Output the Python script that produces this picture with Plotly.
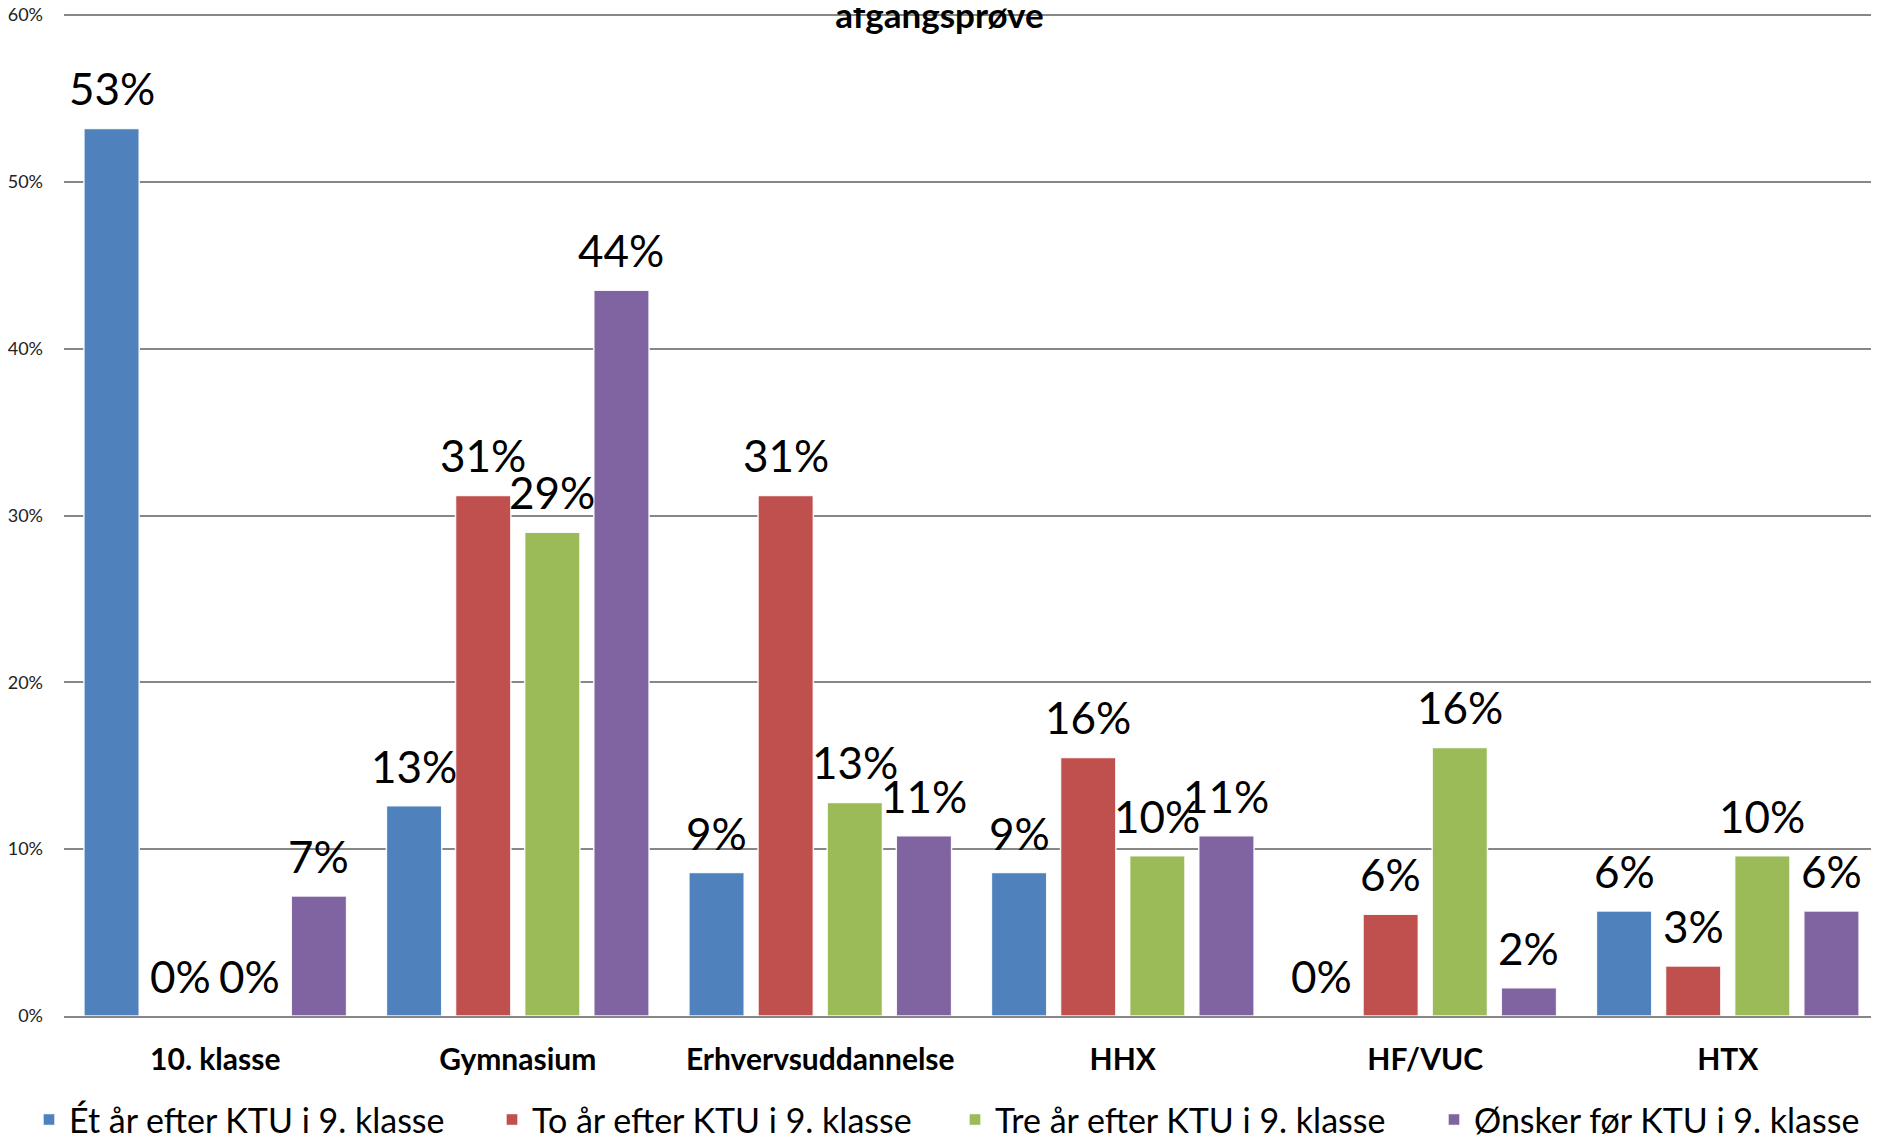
import plotly.graph_objects as go

categories = ["10. klasse", "Gymnasium", "Erhvervsuddannelse", "HHX", "HF/VUC", "HTX"]
series_names = [
    "Ét år efter KTU i 9. klasse",
    "To år efter KTU i 9. klasse",
    "Tre år efter KTU i 9. klasse",
    "Ønsker før KTU i 9. klasse",
]
et_aar = [0.532, 0.126, 0.086, 0.086, 0.0, 0.063]
to_aar = [0.0, 0.312, 0.312, 0.155, 0.061, 0.030]
tre_aar = [0.0, 0.290, 0.128, 0.096, 0.161, 0.096]
oensker = [0.072, 0.435, 0.108, 0.108, 0.017, 0.063]
title_text = "afgangsprøve"

colors = ["#4F81BD", "#C0504D", "#9BBB59", "#8064A2"]
series_values = [et_aar, to_aar, tre_aar, oensker]
legend_ids = ["legend", "legend", "legend", "legend2"]

W, H = 1879, 1141
OFF = 8  # page body margin offset
m_l, m_r, m_t, m_b = 55.5, 8, 4.2, 133
y_top = 0.6018
bargap = 0.086
bargroupgap = 0.2

fig = go.Figure()
for name, vals, col, lg in zip(series_names, series_values, colors, legend_ids):
    fig.add_trace(go.Bar(
        x=categories, y=vals, name=name, legend=lg,
        marker=dict(color=col, line=dict(color="rgba(255,255,255,0.9)", width=1.5)),
    ))

# data labels above bars
n = len(series_values)
slot = (1 - bargap) / n
annotations = []
for i, vals in enumerate(series_values):
    off = (i - (n - 1) / 2) * slot
    for j, v in enumerate(vals):
        annotations.append(dict(
            x=j + off, y=v, xref="x", yref="y",
            text=f"{v*100:.0f}%", showarrow=False,
            yanchor="middle", yshift=40,
            font=dict(family="Lato", size=44, color="#000000"),
        ))

legend_common = dict(
    orientation="h", xref="container", xanchor="left",
    yref="container", y=1 - 1112 / H, yanchor="middle",
    font=dict(family="Lato", size=34, color="#000000"),
    traceorder="normal", bgcolor="rgba(0,0,0,0)",
)

fig.update_layout(
    template="none",
    width=W, height=H,
    margin=dict(l=m_l, r=m_r, t=m_t, b=m_b, pad=0, autoexpand=False),
    paper_bgcolor="white", plot_bgcolor="white",
    barmode="group", bargap=bargap, bargroupgap=bargroupgap,
    font=dict(family="Lato", color="#000000"),
    title=dict(
        text=f"<b>{title_text}</b>", x=(W / 2 - OFF) / W, xref="container", xanchor="center",
        y=1 - 8 / H, yref="container", yanchor="middle",
        font=dict(family="Lato", size=35, color="#000000"),
    ),
    showlegend=True,
    legend=dict(x=21 / W, entrywidth=418, entrywidthmode="pixels", **legend_common),
    legend2=dict(x=1426 / W, **legend_common),
    annotations=annotations,
)
fig.update_yaxes(
    range=[0, y_top], dtick=0.1, tickformat=".0%", automargin=False,
    showgrid=True, gridcolor="#878787", gridwidth=2,
    zeroline=False, showline=False,
    ticks="", ticklabelstandoff=20, ticklabeloverflow="allow",
    tickfont=dict(family="Lato", size=18, color="#222222"),
)
fig.update_xaxes(
    type="category", automargin=False,
    showline=True, linecolor="#878787", linewidth=2,
    showgrid=False, ticks="", ticklabelstandoff=16,
    tickfont=dict(family="Lato", size=30, color="#000000", weight="bold"),
)

fig.write_html("out.html")
